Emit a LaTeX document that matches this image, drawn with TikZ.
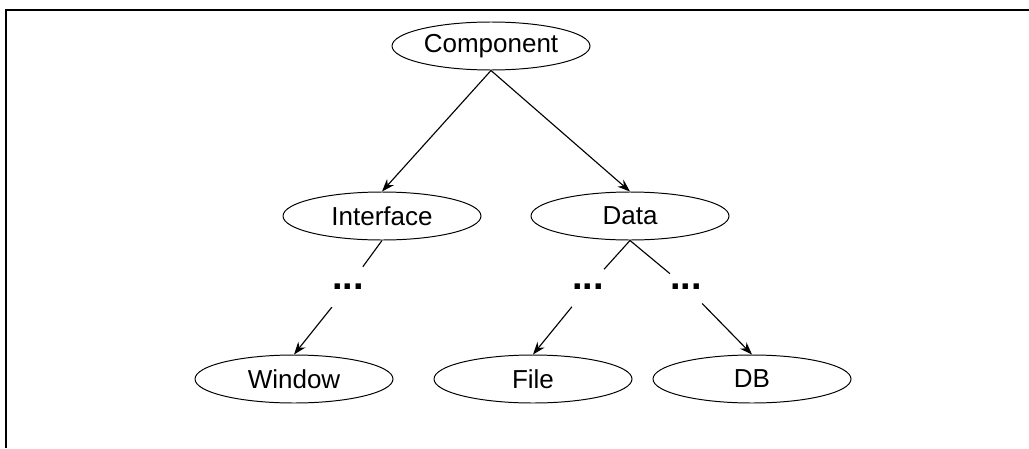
\documentclass[tikz,border=0pt]{standalone}
\usepackage{fontspec}
\setmainfont{Liberation Sans}
\usetikzlibrary{shapes.geometric,arrows.meta}

\begin{document}
\begin{tikzpicture}

\tikzset{class/.style={
    ellipse, draw,
    line width=0.7pt,
    minimum width=4.95cm,
    minimum height=1.2cm,
    inner sep=0pt,
    font=\fontsize{18.5}{22}\selectfont
  },
  skip/.style={
    minimum height=1cm,
    inner sep=0pt,
    font=\fontsize{27}{30}\selectfont\bfseries
  },
  link/.style={line width=0.8pt},
  >={Stealth[length=9pt,width=6.5pt]}
}

\useasboundingbox (0,0) rectangle (25.725,-11.2);
\draw[line width=1.4pt] (0.15,-11.2) |- (25.725,-0.25);

\node[class] (comp) at (12.275,-1.15) {Component};
\node[class] (iface) at (9.55,-5.4) {Interface};
\node[class] (data) at (15.75,-5.4) {Data};

\node[skip] (dots1) at (8.7,-7.175) {...};
\node[skip] (dots2) at (14.7,-7.175) {...};
\node[skip] (dots3) at (17.15,-7.175) {...};

\node[class] (win) at (7.35,-9.475) {Window};
\node[class] (file) at (13.325,-9.475) {File};
\node[class] (db) at (18.8,-9.475) {DB};

\draw [->, link] (comp.south) -- (iface.north);
\draw [->, link] (comp.south) -- (data.north);
\draw [link] (iface.south) -- (dots1);
\draw [link] (data.south) -- (dots2);
\draw [link] (data.south) -- (dots3);
\draw [->, link] (dots1) -- (win.north);
\draw [->, link] (dots2) -- (file.north);
\draw [->, link] (dots3) -- (db.north);

\end{tikzpicture}
\end{document}
